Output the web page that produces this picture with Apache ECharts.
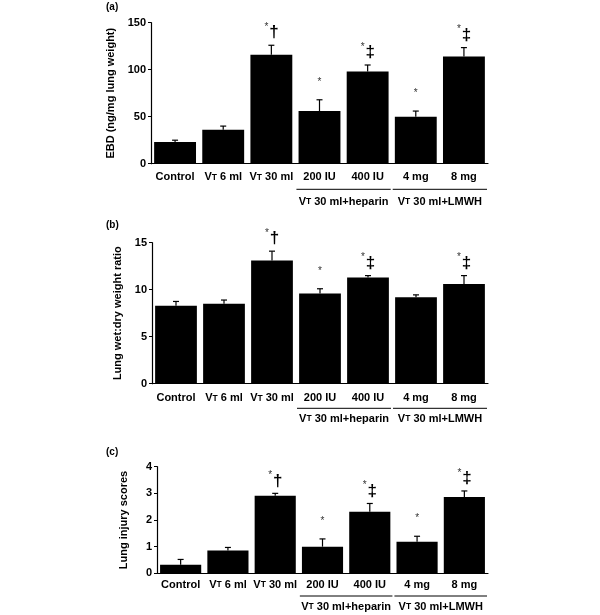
<!DOCTYPE html>
<html>
<head>
<meta charset="utf-8">
<script src="https://cdn.jsdelivr.net/npm/echarts@6/dist/echarts.min.js"></script>
<style>
html,body{margin:0;padding:0;background:#fff;}
#c{width:600px;height:615px;}
</style>
</head>
<body>
<div id="c"></div>
<script>
const categories = ['Control', 'VT 6 ml', 'VT 30 ml', '200 IU', '400 IU', '4 mg', '8 mg'];
const groupSpans = [[3, 4], [5, 6]];
const groupLabels = ['VT 30 ml+heparin', 'VT 30 ml+LMWH'];

const ebdMean = [23, 36, 116, 56, 98, 50, 114];
const ebdSem = [2, 4, 10, 12, 7, 6, 9.5];
const ebdMarks = ['', '', '*†', '*', '*‡', '*', '*‡'];

const wetDryMean = [8.3, 8.5, 13.1, 9.6, 11.3, 9.2, 10.6];
const wetDrySem = [0.45, 0.4, 1.0, 0.5, 0.2, 0.25, 0.9];
const wetDryMarks = ['', '', '*†', '*', '*‡', '', '*‡'];

const injuryMean = [0.32, 0.86, 2.91, 1.0, 2.31, 1.18, 2.86];
const injurySem = [0.2, 0.11, 0.09, 0.29, 0.31, 0.21, 0.23];
const injuryMarks = ['', '', '*†', '*', '*‡', '*', '*‡'];

const yMax = [150, 15, 4];
const yInterval = [50, 5, 1];
const yNames = ['EBD (ng/mg lung weight)', 'Lung wet:dry weight ratio', 'Lung injury scores'];
const panelLabels = ['(a)', '(b)', '(c)'];

const FONT = "'Liberation Sans', Arial, sans-serif";
const rich = {
  v: {fontSize: 11, fontWeight: 'bold', fontFamily: FONT, color: '#000'},
  t: {fontSize: 8.5, fontWeight: 'bold', fontFamily: FONT, color: '#000'},
  n: {fontSize: 11, fontWeight: 'bold', fontFamily: FONT, color: '#000'}
};
function vt(s) {
  if (s.indexOf('VT') === 0) return '{v|V}{t|T}{n|' + s.slice(2) + '}';
  return '{n|' + s + '}';
}

const panels = [
  {mean: ebdMean, sem: ebdSem, marks: ebdMarks},
  {mean: wetDryMean, sem: wetDrySem, marks: wetDryMarks},
  {mean: injuryMean, sem: injurySem, marks: injuryMarks}
];

const grids = [
  {left: 151, right: 112, top: 22.7, height: 141},
  {left: 152, right: 112, top: 242.7, height: 141},
  {left: 157, right: 112, top: 466.7, height: 106.6}
];
const labelMargin = [8, 9, 6];
const lineOff = [25.6, 24.6, 22.7];
const textOff = [38, 35.3, 33.4];
const nameGaps = [26, 27, 28];

const xAxes = [], yAxes = [], series = [], titles = [];
panels.forEach((p, k) => {
  xAxes.push({
    gridIndex: k, type: 'category', data: categories,
    axisLine: {lineStyle: {color: '#000', width: 1.2}},
    axisTick: {show: false},
    axisLabel: {interval: 0, margin: labelMargin[k], formatter: v => vt(v), rich: rich}
  });
  yAxes.push({
    gridIndex: k, type: 'value', min: 0, max: yMax[k], interval: yInterval[k],
    name: yNames[k], nameLocation: 'middle', nameGap: nameGaps[k],
    nameTextStyle: {fontSize: 11, fontWeight: 'bold', fontFamily: FONT, color: '#000'},
    axisLine: {show: true, lineStyle: {color: '#000', width: 1.2}},
    axisTick: {show: true, length: 3, lineStyle: {color: '#000'}},
    splitLine: {show: false},
    axisLabel: {fontSize: 11, fontWeight: 'bold', fontFamily: FONT, color: '#000', margin: 5}
  });
  series.push({
    type: 'bar', xAxisIndex: k, yAxisIndex: k, data: p.mean,
    barCategoryGap: '13%',
    itemStyle: {color: '#000'}
  });
  const marks = p.marks;
  series.push({
    type: 'custom', xAxisIndex: k, yAxisIndex: k, z: 5,
    data: p.mean.map((m, i) => [i, m, p.sem[i]]),
    encode: {x: 0, y: 1},
    renderItem: function (params, api) {
      const i = api.value(0), m = api.value(1), s = api.value(2);
      const base = api.coord([i, m]);
      const top = api.coord([i, m + s]);
      const cx = base[0], ty = top[1];
      const st = {stroke: '#000', lineWidth: 1.2};
      const children = [
        {type: 'line', shape: {x1: cx, y1: base[1], x2: cx, y2: ty}, style: st},
        {type: 'line', shape: {x1: cx - 3, y1: ty, x2: cx + 3, y2: ty}, style: st}
      ];
      const mk = marks[params.dataIndex];
      if (mk) {
        const ax = mk.length > 1 ? cx - 5 : cx;
        children.push({type: 'text', x: ax, y: ty - 18,
          style: {text: '*', fontSize: 10, fontFamily: FONT, fill: '#333', align: 'center', verticalAlign: 'middle'}});
        if (mk.length > 1) {
          children.push({type: 'text', x: cx + 2.5, y: ty - 12.5,
            style: {text: mk.slice(1), fontSize: 17, fontWeight: 'bold', fontFamily: FONT, fill: '#000', align: 'center', verticalAlign: 'middle'}});
        }
      }
      return {type: 'group', children: children};
    }
  });
  series.push({
    type: 'custom', xAxisIndex: k, yAxisIndex: k, clip: false, silent: true,
    data: groupSpans.map((g, j) => [g[0], g[1], j]),
    encode: {x: [0, 1]},
    renderItem: function (params, api) {
      const a = api.coord([api.value(0), 0]);
      const b = api.coord([api.value(1), 0]);
      const w = api.size([1, 0])[0];
      const x1 = a[0] - w / 2 + 1, x2 = b[0] + w / 2 - 1;
      const y = a[1];
      return {type: 'group', children: [
        {type: 'line', shape: {x1: x1, y1: y + lineOff[k], x2: x2, y2: y + lineOff[k]}, style: {stroke: '#000', lineWidth: 1}},
        {type: 'text', x: (x1 + x2) / 2, y: y + textOff[k],
          style: {text: vt(groupLabels[params.dataIndex]), rich: rich, align: 'center', verticalAlign: 'middle'}}
      ]};
    }
  });
  titles.push({
    text: panelLabels[k], left: 106, top: [2, 220, 447][k], padding: 0,
    textStyle: {fontSize: 10, fontWeight: 'bold', fontFamily: FONT, color: '#000'}
  });
});

const chart = echarts.init(document.getElementById('c'), null, {renderer: 'canvas'});
chart.setOption({
  backgroundColor: '#fff',
  animation: false,
  title: titles,
  grid: grids,
  xAxis: xAxes,
  yAxis: yAxes,
  series: series
});
</script>
</body>
</html>
